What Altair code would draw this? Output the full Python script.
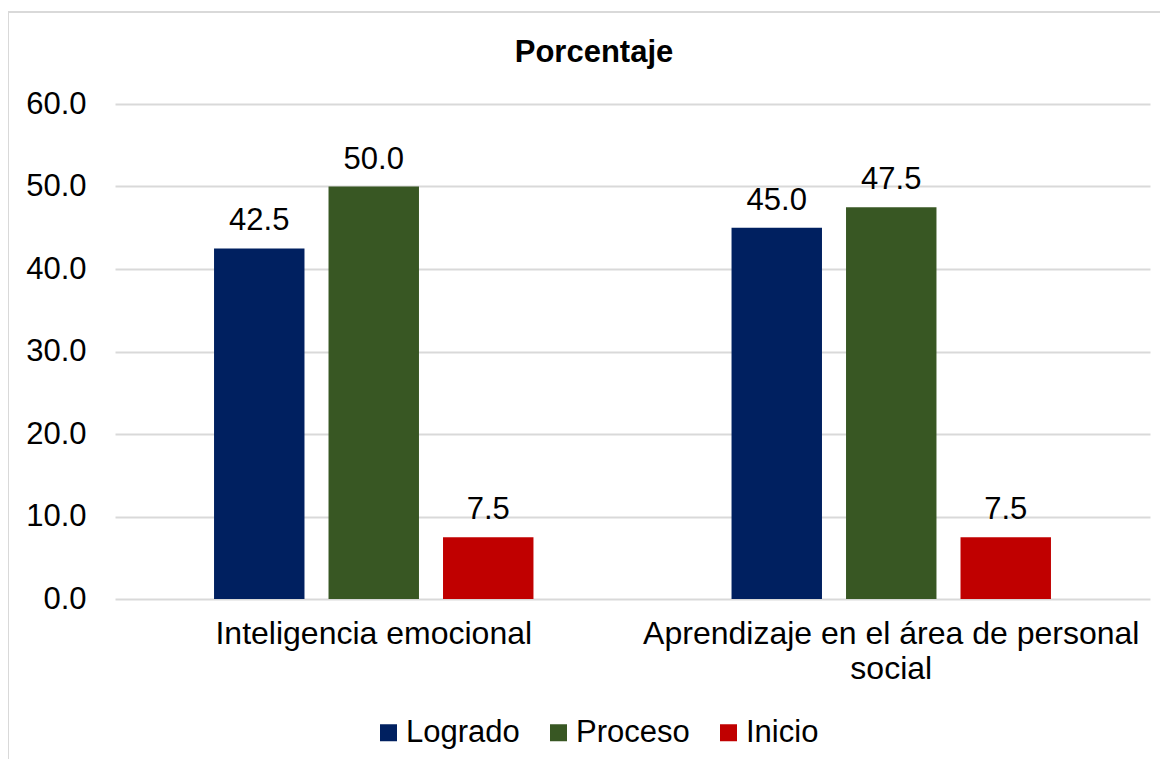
import altair as alt
import pandas as pd

categories = ["Inteligencia emocional", "Aprendizaje en el área de personal social"]
series = ["Logrado", "Proceso", "Inicio"]
logrado = [42.5, 45.0]
proceso = [50.0, 47.5]
inicio = [7.5, 7.5]
colors = ["#002060", "#385723", "#C00000"]
y_ticks = [0, 10, 20, 30, 40, 50, 60]
title_text = "Porcentaje"

rows = []
for i, c in enumerate(categories):
    for s, vals in zip(series, [logrado, proceso, inicio]):
        rows.append({"categoria": c, "serie": s, "valor": vals[i]})
df = pd.DataFrame(rows)

FONT = "Liberation Sans"
FS = 31

x_enc = alt.X("categoria:N", sort=categories, title=None,
              scale=alt.Scale(paddingInner=0, paddingOuter=0),
              axis=alt.Axis(labelAngle=0, labelFontSize=32, labelColor="#000000",
                            labelFont=FONT, domain=False, ticks=False, grid=False,
                            labelPadding=19, labelLimit=800, labelLineHeight=35,
                            labelExpr="datum.value == 'Aprendizaje en el área de personal social' ? ['Aprendizaje en el área de personal', 'social'] : datum.label"))
xoff = alt.XOffset("serie:N", sort=series,
                   scale=alt.Scale(paddingInner=0.21, paddingOuter=0.865))
y_enc = alt.Y("valor:Q", title=None,
              scale=alt.Scale(domain=[0, 60], nice=False),
              axis=alt.Axis(values=y_ticks, format=".1f", labelFontSize=FS,
                            labelColor="#000000", labelFont=FONT, domain=False,
                            ticks=False, labelPadding=29, gridColor="#d9d9d9",
                            gridWidth=2))

base = alt.Chart(df)

bars = base.mark_bar().encode(
    x=x_enc, xOffset=xoff, y=y_enc,
    color=alt.Color("serie:N", sort=series,
                    scale=alt.Scale(domain=series, range=colors),
                    legend=alt.Legend(title=None, orient="none", direction="horizontal",
                                      legendX=258, legendY=613,
                                      symbolType="square", symbolSize=289,
                                      symbolStrokeWidth=0, labelFontSize=FS,
                                      labelFont=FONT, labelColor="#000000",
                                      labelOffset=2, columnPadding=23)),
)

labels = base.mark_text(fontSize=FS, font=FONT, color="#000000",
                        baseline="alphabetic", dy=-18).encode(
    x=x_enc, xOffset=xoff, y="valor:Q",
    text=alt.Text("valor:Q", format=".1f"),
)

one = pd.DataFrame({"t": [title_text]})
title = alt.Chart(one).mark_text(fontSize=FS, font=FONT, fontWeight="bold",
                                 color="#000000", baseline="alphabetic",
                                 align="center").encode(
    x=alt.value(479), y=alt.value(-42), text="t:N")

frame_top = alt.Chart(one).mark_rule(
    color="#d9d9d9", strokeWidth=2, clip=False).encode(
    x=alt.value(-107), x2=alt.value(1060), y=alt.value(-92))
frame_left = alt.Chart(one).mark_rule(
    color="#d9d9d9", strokeWidth=2, clip=False).encode(
    x=alt.value(-107), y=alt.value(-92), y2=alt.value(655))

chart = alt.layer(bars, labels, title, frame_top, frame_left).properties(
    width=1035, height=495,
    padding={"left": 107, "top": 96, "right": 10, "bottom": 160},
    autosize=alt.AutoSizeParams(type="none"),
).configure_view(stroke=None)

chart.save("out.html", embed_options={"renderer": "svg", "actions": False})
